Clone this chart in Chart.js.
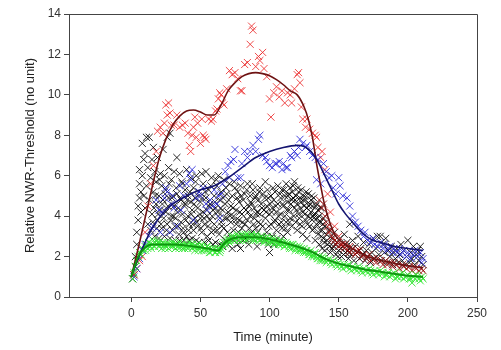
<!DOCTYPE html>
<html>
<head>
<meta charset="utf-8">
<script src="https://cdn.jsdelivr.net/npm/chart.js@4/dist/chart.umd.min.js"></script>
<style>
  html, body { margin: 0; padding: 0; background: #fff; }
  #wrap { width: 501px; height: 350px; }
</style>
</head>
<body>
<div id="wrap"><canvas id="nwrChart" width="501" height="350"></canvas></div>
<script>
// tick labels
const xTicks = [0, 50, 100, 150, 200, 250];
const yTicks = [0, 2, 4, 6, 8, 10, 12, 14];

// measured points, [time (min), relative threshold]
const redPts = [[2,1.1],[4,1.4],[6,1.8],[8,2.0],[10,3.2],[12,4.5],[14,5.6],[16,6.5],[18,7.2],[19,8.2],[21,8.4],[23,8.1],[24,8.6],[25,9.5],[26,9.0],[27,9.6],[28,9.1],[29,8.5],[31,8.5],[33,9.0],[35,8.4],[37,8.5],[39,8.6],[41,8.1],[42,7.5],[43,7.2],[44,8.0],[45,8.4],[46,8.9],[47,7.9],[48,8.6],[50,7.6],[51,8.8],[52,8.0],[53,7.9],[54,7.8],[56,8.8],[58,8.7],[59,8.8],[61,9.2],[62,9.3],[63,9.8],[64,10.1],[65,10.0],[66,9.6],[67,9.5],[69,10.3],[71,11.2],[73,11.0],[75,11.1],[77,10.8],[79,10.2],[80,10.2],[82,11.5],[84,11.6],[86,12.5],[87,13.4],[88,13.2],[90,11.4],[92,11.9],[93,11.7],[95,12.1],[96,11.3],[98,10.9],[100,9.8],[101,8.9],[103,10.1],[105,10.4],[107,9.9],[109,10.2],[111,9.6],[113,10.1],[115,10.0],[116,9.6],[118,10.3],[120,11.0],[121,11.1],[122,10.6],[123,9.4],[124,8.8],[126,8.4],[127,8.8],[129,8.3],[131,8.1],[133,8.0],[134,7.9],[135,7.4],[137,6.9],[138,7.2],[140,6.3],[142,5.1],[144,4.2],[147,3.5],[150,3.0],[153,2.6],[158,2.5],[163,2.3]];

const darkRedPts = [[136,4.8],[138,4.4],[139,4.6],[140,4.0],[141,3.7],[142,3.5],[143,3.2],[144,3.3],[145,3.0],[146,2.9],[147,2.8],[148,2.6],[149,2.7],[150,2.5],[152,2.6],[154,2.4],[155,2.6],[157,2.3],[158,2.2],[160,2.4],[162,2.1],[163,2.2],[165,2.3],[167,2.0],[168,2.1],[170,1.9],[172,2.1],[173,1.8],[175,1.9],[177,1.7],[178,1.9],[180,1.8],[182,1.6],[184,1.8],[185,1.6],[187,1.7],[189,1.5],[190,1.7],[192,1.6],[194,1.4],[196,1.6],[197,1.5],[199,1.4],[201,1.5],[203,1.3],[205,1.5],[206,1.4],[208,1.3],[210,1.4],[211,1.3]];

const bluePts = [[2,1.0],[4,1.4],[6,1.9],[8,2.3],[10,2.6],[11,2.6],[13,3.0],[15,3.4],[16,3.5],[18,4.8],[20,4.3],[21,3.2],[22,4.2],[24,4.9],[25,5.4],[26,5.2],[28,3.2],[29,4.6],[30,5.0],[31,4.4],[33,3.5],[35,5.5],[36,4.3],[38,5.0],[40,5.6],[42,6.1],[43,5.8],[44,6.3],[45,3.8],[47,4.9],[49,5.2],[50,5.0],[52,5.4],[54,4.6],[55,4.3],[57,4.8],[59,4.5],[60,5.3],[62,4.6],[63,5.0],[64,3.9],[65,5.1],[66,5.6],[68,6.2],[70,6.5],[71,5.9],[72,6.7],[74,6.8],[75,7.3],[77,5.9],[79,5.9],[80,6.6],[82,7.2],[84,6.9],[86,7.2],[88,7.5],[90,7.2],[92,7.8],[93,8.0],[95,7.0],[97,6.9],[98,6.7],[100,6.5],[102,6.4],[104,6.6],[105,6.6],[107,6.7],[109,6.3],[110,6.6],[112,6.4],[113,6.4],[115,7.0],[116,6.9],[118,7.2],[120,7.0],[121,7.4],[122,7.8],[124,7.6],[126,7.4],[127,7.5],[129,7.2],[131,7.0],[133,6.9],[134,5.8],[135,6.8],[137,5.6],[139,6.6],[141,6.2],[143,5.9],[145,6.0],[146,5.4],[148,5.1],[150,5.9],[151,5.5],[153,5.0],[156,4.9],[158,4.5],[160,4.0],[162,3.7],[164,3.5],[166,3.3],[168,3.0],[169,3.2],[171,2.8],[173,2.7],[175,2.9],[176,2.6],[178,2.5],[180,2.7],[182,2.4],[183,2.6],[185,2.3],[187,2.5],[189,2.2],[190,2.4],[192,2.2],[194,2.4],[195,2.1],[197,2.3],[199,2.0],[200,2.2],[202,1.9],[204,2.1],[205,2.3],[207,2.0],[209,2.2],[210,1.7],[211,1.9]];

const blackPts = [[1,0.9],[2,1.1],[3,1.5],[3,2.0],[4,2.6],[4,3.2],[5,3.8],[5,4.5],[6,4.9],[6,5.6],[6,6.3],[7,4.2],[7,5.2],[8,6.0],[8,7.6],[9,5.0],[9,6.8],[10,4.4],[10,7.1],[11,7.9],[11,5.5],[12,3.6],[12,6.4],
[13,7.9],[13,4.8],[14,3.3],[14,5.9],[15,6.8],[15,4.1],[16,7.4],[16,5.2],[17,3.0],[17,6.2],[18,4.6],[18,5.7],[19,3.8],[19,6.9],[20,5.0],[20,2.9],[21,4.3],[21,6.1],[22,3.4],[22,5.5],[23,7.3],[23,4.8],[24,3.0],[24,6.0],[25,4.2],[25,5.3],[26,7.9],[26,3.6],[27,4.9],[27,6.4],[28,8.1],[28,2.9],[29,4.0],[29,5.8],[30,3.3],[30,5.0],
[31,4.5],[31,6.2],[32,2.8],[32,3.9],[33,6.9],[33,5.1],[34,3.5],[34,4.4],[35,6.1],[35,2.8],[36,4.8],[36,3.7],[37,5.6],[37,4.1],[38,2.8],[38,3.2],[39,5.3],[39,4.6],[40,6.3],[40,3.0],[41,4.0],[41,5.0],[42,2.8],[42,3.6],[43,4.7],[43,5.9],[44,2.9],[44,4.3],[45,5.4],[45,3.3],[46,3.9],[46,4.9],[47,2.8],[47,6.0],[48,3.5],[48,4.4],[49,5.2],[49,2.7],[50,3.9],[50,4.7],[51,6.1],[51,3.2],[52,4.2],[52,5.6],[53,2.7],[53,3.6],[54,4.9],[54,6.2],[55,3.0],[55,4.0],[56,5.3],[56,2.8],[57,3.8],[57,4.6],[58,5.9],[58,3.2],[59,4.3],[59,2.6],[60,5.0],[60,3.6],
[61,4.4],[61,2.7],[62,5.5],[62,3.3],[63,4.0],[63,6.0],[64,2.6],[64,4.8],[65,3.7],[65,5.2],[66,2.5],[66,4.3],[67,5.8],[67,3.4],[68,4.6],[68,2.8],[69,3.9],[69,5.1],[70,2.6],[70,4.2],[71,5.6],[71,3.1],[72,4.5],[72,3.7],[73,2.4],[73,5.0],[74,4.0],[74,3.3],[75,5.4],[75,2.9],[76,4.3],[76,3.6],[77,5.2],[77,2.6],[78,3.8],[78,4.7],[79,2.4],[79,5.5],[80,3.4],[80,4.1],[81,4.8],[81,2.8],[82,3.6],[82,5.1],[83,4.3],[83,3.0],[84,5.6],[84,3.8],[85,2.6],[85,4.5],[86,4.0],[86,5.0],[87,3.2],[87,4.6],[88,5.3],[88,2.9],[89,3.9],[89,4.4],[90,5.0],[90,3.4],[91,4.2],[91,2.5],[92,4.8],[92,3.7],[93,5.4],[93,4.1],[94,3.0],[94,4.6],[95,5.1],[95,3.5],[96,4.3],[96,2.8],[97,5.7],[97,3.9],[98,4.5],[98,3.2],[99,4.9],[99,2.6],[100,4.1],[100,2.2],
[101,5.0],[101,3.6],[102,4.4],[102,3.0],[103,4.8],[103,2.6],[104,5.2],[104,3.8],[105,4.2],[105,3.3],[106,5.5],[106,4.6],[107,3.6],[107,2.7],[108,4.9],[108,4.1],[109,3.4],[109,5.3],[110,4.5],[110,3.0],[111,5.0],[111,4.0],[112,3.7],[112,5.6],[113,4.7],[113,3.2],[114,5.1],[114,4.3],[115,3.9],[115,5.4],[116,4.8],[116,3.5],[117,4.9],[117,5.5],[118,5.7],[118,4.4],[119,3.7],[119,5.0],[120,4.6],[120,3.3],[121,5.2],[121,4.1],[122,4.9],[122,3.6],[123,4.7],[123,5.3],[124,4.2],[124,3.1],[125,5.0],[125,4.5],[126,3.8],[126,4.8],[127,4.4],[127,2.9],[128,5.1],[128,4.0],[129,4.6],[129,3.5],[130,4.8],[130,4.2],[131,3.3],[131,4.5],[132,4.9],[132,3.9],[133,4.1],[133,2.8],[134,4.6],[134,3.6],[135,4.3],[135,3.1],[136,4.0],[136,2.6],[137,3.7],[137,4.4],[138,3.3],[138,2.4],[139,3.9],[139,2.9],[140,3.5],[140,2.3],
[141,3.1],[142,2.6],[143,3.3],[144,2.2],[145,2.9],[146,2.5],[147,3.2],[148,2.1],[149,2.7],[150,2.3],[151,2.9],[152,2.0],[153,2.5],[154,3.1],[155,2.2],[156,2.7],[157,1.9],[158,3.6],[158,2.4],[159,2.1],[160,2.8],[161,1.8],[162,2.5],[163,2.2],[164,3.0],[165,1.9],[166,2.4],[167,2.1],[168,2.7],[169,1.8],[170,2.3],[171,2.0],[172,2.6],[173,1.7],[174,2.2],[175,2.9],[176,1.9],[177,2.4],[178,3.0],[179,2.1],[180,3.0],[181,1.8],[182,2.6],[183,2.2],[184,2.9],[185,1.7],[186,2.3],[187,2.0],[188,2.5],[189,1.6],[190,2.2],[191,1.9],[192,2.4],[193,1.7],[194,2.1],[195,2.6],[196,1.8],[197,2.3],[198,1.6],[199,2.0],[200,2.8],[201,1.7],[202,2.2],[203,1.9],[204,2.5],[205,1.6],[206,2.1],[207,2.3],[208,1.8],[209,2.5],[210,2.0],[211,1.6]];

// denser middle of the black cloud
const blackPtsMid = [[15.5,3.7],[16.5,4.4],[17.5,5.0],[18.5,3.4],[19.5,4.1],[20.5,5.8],[21.5,3.6],[22.5,4.6],[23.5,3.9],[24.5,5.1],[25.5,3.3],[26.5,4.5],[27.5,5.6],[28.5,3.8],[29.5,4.9],[30.5,4.0],[31.5,3.5],[32.5,5.4],[33.5,4.2],[34.5,3.1],[35.5,4.9],[36.5,5.7],[37.5,3.4],[38.5,4.5],[39.5,3.8],[40.5,4.8],[41.5,3.3],[42.5,5.2],[43.5,4.1],[44.5,3.6],[45.5,4.6],[46.5,5.7],[47.5,3.7],[48.5,5.0],[49.5,4.1],[50.5,3.4],[51.5,4.9],[52.5,3.9],[53.5,5.2],[54.5,4.3],[55.5,3.5],[56.5,4.5],[57.5,5.5],[58.5,4.0],[59.5,3.3],[60.5,4.7],[61.5,5.8],[62.5,4.2],[63.5,3.1],[64.5,4.4],[65.5,3.5],[66.5,4.9],[67.5,3.9],[68.5,5.4],[69.5,3.2],[70.5,4.8],[71.5,4.0],[72.5,2.9],[73.5,4.4],[74.5,5.7],[75.5,3.8],[76.5,4.9],[77.5,3.2],[78.5,4.2],[79.5,5.0],[80.5,3.7],[81.5,4.4],[82.5,2.9],[83.5,5.3],[84.5,4.2],[85.5,3.4],[86.5,4.7],[87.5,5.6],[88.5,3.6],[89.5,4.9],[90.5,4.1],[91.5,3.2],[92.5,5.2],[93.5,3.6],[94.5,4.4],[95.5,2.9],[96.5,4.9],[97.5,4.2],[98.5,5.3],[99.5,3.5],[100.5,4.6],[101.5,4.2],[102.5,5.4],[103.5,3.7],[104.5,4.5],[105.5,2.9],[106.5,4.0],[107.5,5.1],[108.5,3.7],[109.5,4.6],[110.5,5.3],[111.5,3.4],[112.5,4.3],[113.5,5.0],[114.5,3.7],[115.5,4.6],[116.5,5.2],[117.5,4.0],[118.5,4.8],[119.5,4.3],[120.5,5.4],[121.5,3.9],[122.5,4.4],[123.5,3.5],[124.5,4.8],[125.5,4.1],[126.5,5.2],[127.5,3.6],[128.5,4.5],[129.5,3.9],[130.5,5.0],[131.5,4.0],[132.5,3.4],[133.5,4.5],[134.5,3.9],[135.5,3.7],[136.5,3.3],[137.5,3.0],[138.5,3.6],[139.5,2.7],[141.5,2.8],[143.5,2.5],[145.5,2.4],[147.5,2.6],[149.5,2.0],[151.5,2.4],[153.5,2.1],[155.5,2.5],[157.5,2.2]];

const greenPts = [[1,0.9],[2,1.2],[3,1.5],[4,1.8],[5,2.0],[6,2.2],[7,2.1],[8,2.4],[9,2.3],[10,2.5],[11,2.6],[12,2.4],[13,2.7],[14,2.5],[15,2.6],[16,2.8],[17,2.5],[18,2.6],[19,2.7],[20,2.5],[21,2.6],[22,2.4],[23,2.7],[24,2.6],[25,2.5],[26,2.6],[27,2.4],[28,2.6],[29,2.7],[30,2.5],[31,2.6],[32,2.4],[33,2.6],[34,2.5],[35,2.7],[36,2.5],[37,2.4],[38,2.6],[39,2.5],[40,2.6],[41,2.4],[42,2.5],[43,2.6],[44,2.4],[45,2.5],[46,2.3],[47,2.5],[48,2.6],[49,2.4],[50,2.5],[51,2.3],[52,2.5],[53,2.4],[54,2.3],[55,2.5],[56,2.4],[57,2.2],[58,2.4],[59,2.3],[60,2.4],[61,2.2],[62,2.3],[63,2.4],[64,2.2],[65,2.4],[66,2.6],[67,2.7],[68,2.6],[69,2.8],[70,2.9],[71,2.7],[72,2.8],[73,2.9],[74,3.0],[75,2.8],[76,2.9],[77,3.0],[78,2.8],[79,2.9],[80,3.1],[81,2.9],[82,3.0],[83,2.8],[84,3.1],[85,3.0],[86,2.9],[87,3.1],[88,2.9],[89,3.0],[90,2.8],[91,3.0],[92,2.9],[93,2.8],[94,3.0],[95,2.9],[96,2.7],[97,2.9],[98,2.8],[99,2.7],[100,2.9],[101,2.8],[102,2.7],[103,2.8],[104,2.6],[105,2.8],[106,2.7],[107,2.6],[108,2.8],[109,2.6],[110,2.7],[111,2.5],[112,2.7],[113,2.6],[114,2.5],[115,2.6],[116,2.4],[117,2.6],[118,2.5],[119,2.4],[120,2.5],[121,2.3],[122,2.5],[123,2.4],[124,2.3],[125,2.4],[126,2.2],[127,2.3],[128,2.2],[129,2.1],[130,2.3],[131,2.1],[132,2.0],[133,2.2],[134,2.0],[135,1.9],[136,2.0],[137,1.9],[138,1.8],[139,1.9],[140,1.8],[142,1.8],[144,1.7],[146,1.8],[148,1.6],[150,1.7],[152,1.5],[154,1.6],[156,1.5],[158,1.4],[160,1.5],[162,1.4],[164,1.5],[166,1.3],[168,1.4],[170,1.3],[172,1.4],[174,1.2],[176,1.3],[178,1.2],[180,1.3],[182,1.2],[184,1.1],[186,1.2],[188,1.1],[190,1.2],[192,1.0],[194,1.1],[196,1.2],[198,1.0],[200,1.1],[202,0.9],[203,0.7],[204,1.0],[206,1.1],[208,0.9],[210,1.0],[211,0.9]];

const greenPtsB = [[10.5,2.3],[12.5,2.7],[14.5,2.4],[16.5,2.5],[18.5,2.8],[20.5,2.7],[22.5,2.6],[24.5,2.4],[26.5,2.7],[28.5,2.5],[30.5,2.7],[32.5,2.6],[34.5,2.4],[36.5,2.6],[38.5,2.4],[40.5,2.5],[42.5,2.7],[44.5,2.6],[46.5,2.5],[48.5,2.3],[50.5,2.6],[52.5,2.3],[54.5,2.5],[56.5,2.2],[58.5,2.3],[60.5,2.2],[62.5,2.4],[64.5,2.3],[66.5,2.5],[68.5,2.7],[70.5,2.8],[72.5,3.0],[74.5,2.8],[76.5,3.1],[78.5,3.0],[80.5,2.8],[82.5,3.1],[84.5,2.9],[86.5,3.0],[88.5,2.8],[90.5,3.1],[92.5,2.8],[94.5,2.9],[96.5,2.8],[98.5,3.0],[100.5,2.7],[102.5,2.9],[104.5,2.7],[106.5,2.6],[108.5,2.7],[110.5,2.5],[112.5,2.6],[114.5,2.4],[116.5,2.6],[118.5,2.3],[120.5,2.4],[122.5,2.3],[124.5,2.2],[126.5,2.3],[128.5,2.1],[130.5,2.0],[132.5,2.1],[134.5,1.9],[136.5,1.8],[138.5,2.0],[141,1.7],[143,1.9],[145,1.6],[147,1.7],[149,1.5],[151,1.6],[153,1.4],[155,1.5],[157,1.6],[159,1.3],[161,1.4],[163,1.3],[165,1.4],[167,1.2],[169,1.3],[171,1.2],[173,1.3],[175,1.1],[177,1.2],[179,1.1],[181,1.2],[183,1.0],[185,1.1],[187,1.0],[189,1.1],[191,0.9],[193,1.0],[195,1.0],[197,0.9],[199,1.0],[201,0.9],[205,0.9],[207,1.0],[209,0.8]];

// fitted curves
const redFit = [[0,1.0],[5,2.4],[10,3.9],[15,5.4],[20,6.8],[25,7.8],[30,8.5],[35,8.95],[40,9.2],[45,9.25],[50,9.15],[55,9.0],[60,9.0],[65,9.5],[70,10.2],[75,10.6],[80,10.9],[85,11.05],[90,11.1],[95,11.05],[100,10.95],[105,10.75],[110,10.5],[115,10.2],[120,10.0],[125,9.4],[128,8.8],[131,7.9],[134,6.6],[137,5.5],[140,4.5],[144,3.6],[148,3.0],[155,2.6],[165,2.2],[175,1.9],[185,1.75],[195,1.6],[205,1.5],[211,1.45]];
const blueFit = [[0,1.0],[5,1.9],[10,2.7],[15,3.4],[20,3.9],[25,4.3],[30,4.6],[40,5.0],[50,5.3],[60,5.5],[70,5.9],[80,6.4],[90,6.9],[100,7.2],[110,7.4],[120,7.5],[125,7.45],[130,7.2],[135,6.7],[140,6.0],[145,5.3],[150,4.6],[155,4.1],[160,3.7],[165,3.3],[170,3.0],[175,2.8],[180,2.7],[190,2.5],[200,2.4],[211,2.3]];
const greenFit = [[0,1.0],[5,2.0],[10,2.45],[15,2.6],[30,2.6],[45,2.5],[55,2.4],[63,2.3],[66,2.55],[70,2.8],[80,2.95],[90,2.95],[100,2.85],[110,2.7],[120,2.5],[130,2.25],[140,1.9],[150,1.65],[160,1.5],[170,1.35],[180,1.25],[190,1.15],[200,1.05],[211,1.0]];

const toXY = pts => pts.map(p => ({ x: p[0], y: p[1] }));
const font = 'Liberation Sans, Arial, sans-serif';

function crosses(pts, color) {
    return {
        data: toXY(pts),
        pointStyle: 'crossRot',
        pointRadius: 5,
        pointBorderWidth: 1,
        borderColor: color,
        backgroundColor: color,
        showLine: false
    };
}

function fitLine(pts, color, w) {
    return {
        data: toXY(pts),
        showLine: true,
        borderColor: color,
        borderWidth: w,
        pointRadius: 0,
        cubicInterpolationMode: 'monotone',
        fill: false
    };
}

// box around the plot area (top and right sides)
const frame = {
    id: 'frame',
    afterDraw(chart) {
        const a = chart.chartArea, c = chart.ctx;
        c.save();
        c.strokeStyle = '#444';
        c.lineWidth = 1;
        c.beginPath();
        c.moveTo(a.left, a.top + 0.5);
        c.lineTo(a.right + 0.5, a.top + 0.5);
        c.lineTo(a.right + 0.5, a.bottom);
        c.stroke();
        c.restore();
    }
};

new Chart(document.getElementById('nwrChart').getContext('2d'), {
    type: 'scatter',
    data: {
        datasets: [
            fitLine(greenFit, '#0f960f', 2),
            fitLine(blueFit, '#141470', 1.6),
            fitLine(redFit, '#6e1212', 1.6),
            crosses(greenPtsB, 'rgba(60,235,60,0.9)'),
            crosses(greenPts, 'rgba(40,225,40,0.9)'),
            crosses(bluePts, 'rgba(40,40,215,0.85)'),
            crosses(darkRedPts, 'rgba(150,10,10,0.85)'),
            crosses(redPts, 'rgba(235,45,45,0.85)'),
            crosses(blackPtsMid, 'rgba(0,0,0,0.8)'),
            crosses(blackPts, 'rgba(0,0,0,0.85)')
        ]
    },
    options: {
        responsive: false,
        animation: false,
        layout: { padding: { left: 0, right: 24, top: 14, bottom: 0 } },
        plugins: { legend: { display: false }, tooltip: { enabled: false } },
        scales: {
            x: {
                min: -45, max: 250,
                afterBuildTicks: s => { s.ticks = xTicks.map(v => ({ value: v })); },
                afterFit: s => { s.height = 53; },
                grid: { drawOnChartArea: false, drawTicks: true, tickLength: 5, tickColor: '#444' },
                border: { display: true, color: '#444', width: 1 },
                ticks: { font: { family: font, size: 12 }, color: '#333', padding: 4 },
                title: { display: true, text: 'Time (minute)', font: { family: font, size: 13 }, color: '#222', padding: 5 }
            },
            y: {
                min: 0, max: 14,
                afterBuildTicks: s => { s.ticks = yTicks.map(v => ({ value: v })); },
                afterFit: s => { s.width = 69; },
                grid: { drawOnChartArea: false, drawTicks: true, tickLength: 5, tickColor: '#444' },
                border: { display: true, color: '#444', width: 1 },
                ticks: { font: { family: font, size: 12 }, color: '#333', padding: 3 },
                title: { display: true, text: 'Relative NWR-Threshold (no unit)', font: { family: font, size: 13 }, color: '#222', padding: 23 }
            }
        }
    },
    plugins: [frame]
});
</script>
</body>
</html>
